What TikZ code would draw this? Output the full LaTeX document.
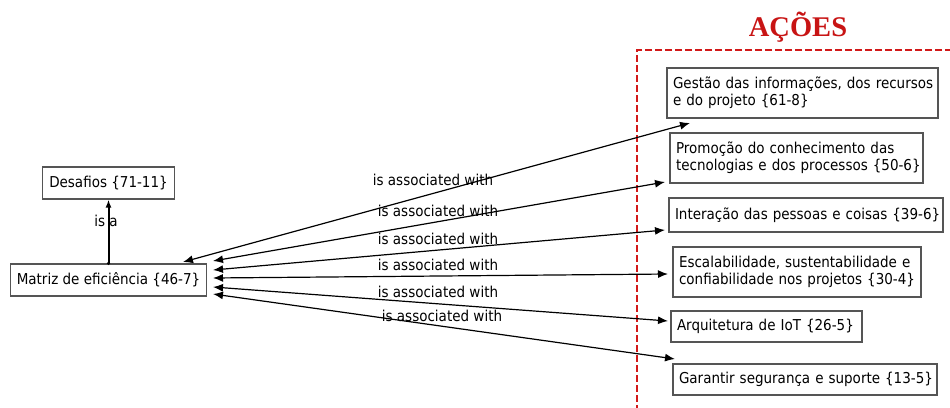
\documentclass[tikz,border=0pt]{standalone}
\usepackage{fontspec}
\setmainfont[FakeStretch=0.9]{DejaVu Sans}
\newfontfamily\titlefont{Liberation Serif}
\usetikzlibrary{arrows.meta}
\definecolor{boxline}{RGB}{85,85,85}
\definecolor{framered}{RGB}{210,25,25}
\definecolor{titlered}{RGB}{200,20,20}
\tikzset{
  concept/.style={draw=boxline, line width=1.2pt, fill=white, inner xsep=6pt,
    inner ysep=3pt, align=left, font=\fontsize{15}{17}\selectfont},
  rel/.style={line width=1.2pt, {Latex[length=10pt,width=8pt]}-{Latex[length=10pt,width=8pt]}},
  rellabel/.style={font=\fontsize{15}{16}\selectfont, inner sep=1pt},
}
\begin{document}
\begin{tikzpicture}[x=1pt,y=-1pt]
  \useasboundingbox (0,0) rectangle (950,407);

  % dashed frame around the actions
  \draw[framered, line width=2pt, dash pattern=on 7pt off 3pt] (952,50) -- (637,50) -- (637,409);
  \node[font=\titlefont\bfseries\fontsize{28.5}{30}\selectfont, text=titlered] (title) at (798,27) {AÇÕES};

  % left side concepts
  \node[concept, minimum width=132pt, minimum height=32pt] (des) at (108.5,183) {Desafios \{71-11\}};
  \node[concept, minimum width=193pt, minimum height=32pt] (mat) at (108.5,280) {Matriz de eficiência \{46-7\}};

  % actions
  \node[concept, text width=259pt, minimum height=50pt] (a1) at (802.5,93)
    {\mbox{Gestão das informações, dos recursos}\\\mbox{e do projeto \{61-8\}}};
  \node[concept, text width=241pt, minimum height=50pt] (a2) at (796.5,158)
    {\mbox{Promoção do conhecimento das}\\\mbox{tecnologias e dos processos \{50-6\}}};
  \node[concept, text width=262pt, minimum height=34pt] (a3) at (806,215)
    {\mbox{Interação das pessoas e coisas \{39-6\}}};
  \node[concept, text width=236pt, minimum height=50pt] (a4) at (797,272)
    {\mbox{Escalabilidade, sustentabilidade e}\\\mbox{confiabilidade nos projetos \{30-4\}}};
  \node[concept, text width=179pt, minimum height=31pt] (a5) at (766.5,326.5)
    {\mbox{Arquitetura de IoT \{26-5\}}};
  \node[concept, text width=252pt, minimum height=31pt] (a6) at (805,379.5)
    {\mbox{Garantir segurança e suporte \{13-5\}}};

  % is-a link
  \draw[line width=2pt, -{Latex[length=8pt,width=6pt]}] (mat.north) -- (des.south);
  \fill (mat.north) circle (1.8pt);
  \node[rellabel] (isa) at (106,221) {is a};

  % connector end points
  \coordinate (m1) at (183,262);  \coordinate (e1) at (690,123);
  \coordinate (m2) at (213,261);  \coordinate (e2) at (665,182);
  \coordinate (m3) at (213,270);  \coordinate (e3) at (665,230);
  \coordinate (m4) at (213,278);  \coordinate (e4) at (668,274);
  \coordinate (m5) at (213,287);  \coordinate (e5) at (668,321);
  \coordinate (m6) at (213,294);  \coordinate (e6) at (675,359);

  \foreach \i in {1,...,6} \draw[rel] (m\i) -- (e\i);

  % relation labels
  \node[rellabel] (l1) at (433,180) {is associated with};
  \node[rellabel] (l2) at (438,211) {is associated with};
  \node[rellabel] (l3) at (438,239) {is associated with};
  \node[rellabel] (l4) at (438,265) {is associated with};
  \node[rellabel] (l5) at (438,292) {is associated with};
  \node[rellabel] (l6) at (442,316) {is associated with};
\end{tikzpicture}
\end{document}
